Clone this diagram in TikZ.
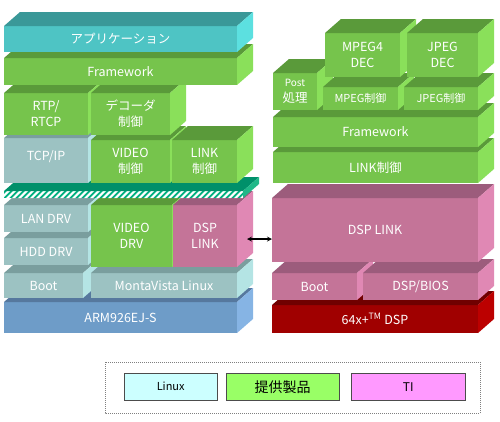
\documentclass[tikz,border=0pt]{standalone}
\usepackage{fontspec}
\setmainfont{Noto Sans CJK JP}
\usepackage{xcolor}
\usepackage{tikz}

% box colours: F front, T top, S side
\definecolor{grnF}{HTML}{76C44C}
\definecolor{grnT}{HTML}{5A9A3A}
\definecolor{grnS}{HTML}{8AE05A}
\definecolor{appF}{HTML}{4EC4C4}
\definecolor{appT}{HTML}{3A9898}
\definecolor{appS}{HTML}{5CE0E0}
\definecolor{lnxF}{HTML}{9CC2C2}
\definecolor{lnxT}{HTML}{7A9E9E}
\definecolor{lnxS}{HTML}{B4E4E4}
\definecolor{pnkF}{HTML}{C47498}
\definecolor{pnkT}{HTML}{9C5C7C}
\definecolor{pnkS}{HTML}{E088B4}
\definecolor{armF}{HTML}{6E9CC8}
\definecolor{armT}{HTML}{56789E}
\definecolor{armS}{HTML}{86B4E4}
\definecolor{redF}{HTML}{A00000}
\definecolor{redT}{HTML}{700000}
\definecolor{redS}{HTML}{BC0000}
\definecolor{slabF}{HTML}{00B080}
\definecolor{slabT}{HTML}{00906A}
\definecolor{slabS}{HTML}{20B888}
\definecolor{keyLnx}{HTML}{CCFFFF}
\definecolor{keyOurs}{HTML}{99FF66}
\definecolor{keyTI}{HTML}{FF99FF}

\tikzset{
  face/.style={anchor=north west, inner sep=0pt, outer sep=0pt, text=white,
    align=center, font=\fontsize{12.5}{16}\selectfont},
  key/.style={anchor=north west, inner sep=0pt, draw=black!70, text=black,
    minimum height=27pt, font=\fontsize{11}{13}\selectfont},
}

% name, x, y, width, height, colour set, text
\newcommand{\blkbox}[7]{%
  \node[face, fill=#6F, minimum width=#4pt, minimum height=#5pt] (#1) at (#2,#3) {#7};
  \fill[#6T] (#1.north west) -- ++(16pt,14pt) -- ([shift={(16pt,14pt)}]#1.north east) -- (#1.north east) -- cycle;
  \fill[#6S] (#1.north east) -- ++(16pt,14pt) -- ([shift={(16pt,14pt)}]#1.south east) -- (#1.south east) -- cycle;
}

\begin{document}
\begin{tikzpicture}[x=1pt,y=-1pt]
\useasboundingbox (0,0) rectangle (500,421);

% ARM side
\blkbox{arm}{4}{302}{233}{31}{arm}{ARM926EJ-S}
\blkbox{bootL}{4}{273}{79}{25}{lnx}{Boot}
\blkbox{mvl}{91}{273}{146}{25}{lnx}{MontaVista Linux}
\blkbox{hdd}{4}{238}{84}{27}{lnx}{HDD DRV}
\blkbox{lan}{4}{205}{84}{27}{lnx}{LAN DRV}
\blkbox{vdrv}{91}{205}{81}{62}{grn}{VIDEO\\DRV}
\blkbox{dspL}{173}{205}{64}{62}{pnk}{DSP\\LINK}

% hatched slab
\node[face, fill=slabF, minimum width=239pt, minimum height=7pt] (slab) at (4,191) {};
\begin{scope}
\clip (slab.south west) rectangle (slab.north east);
\foreach \i in {0,6,...,246}
  \fill[white] (\i,198) -- (\i+3,198) -- (\i+10,191) -- (\i+7,191) -- cycle;
\end{scope}
\fill[slabT] (slab.north west) -- ++(16pt,14pt) -- ([shift={(16pt,14pt)}]slab.north east) -- (slab.north east) -- cycle;
\fill[slabS] (slab.north east) -- ++(16pt,14pt) -- ([shift={(16pt,14pt)}]slab.south east) -- (slab.south east) -- cycle;

\blkbox{tcp}{4}{138}{84}{45}{lnx}{TCP/IP\\[-6pt]\mbox{}}
\blkbox{vctl}{91}{140}{79}{43}{grn}{VIDEO\\制御}
\blkbox{lctlL}{172}{140}{65}{43}{grn}{LINK\\制御}
\blkbox{rtp}{4}{93}{84}{42}{grn}{RTP/\\RTCP}
\blkbox{dec}{91}{93}{79}{42}{grn}{デコーダ\\制御}
\blkbox{fwL}{4}{58}{233}{27}{grn}{Framework}
\blkbox{app}{4}{26}{233}{26}{app}{アプリケーション}

% DSP side
\blkbox{dsp}{272}{305}{206}{28}{red}{64x+\textsuperscript{TM} DSP}
\blkbox{bootR}{272}{273}{85}{27}{pnk}{Boot}
\blkbox{bios}{363}{273}{115}{27}{pnk}{DSP/BIOS}
\blkbox{dspR}{272}{198}{206}{64}{pnk}{DSP LINK}
\blkbox{lctlR}{273}{152}{205}{31}{grn}{LINK制御}
\blkbox{fwR}{273}{117}{205}{30}{grn}{Framework}
\blkbox{post}{273}{73}{44}{37}{grn}{\fontsize{10}{13}\selectfont Post\\処理}
\blkbox{mctl}{323}{87}{75}{23}{grn}{\fontsize{11}{13}\selectfont MPEG制御}
\blkbox{jctl}{404}{87}{74}{23}{grn}{\fontsize{11}{13}\selectfont JPEG制御}
\blkbox{mdec}{325}{33}{75}{44}{grn}{MPEG4\\DEC}
\blkbox{jdec}{407}{33}{71}{44}{grn}{JPEG\\DEC}

\draw[<->, >=stealth, line width=1.2pt] ([xshift=10pt,yshift=-3pt]dspL.east) -- ([yshift=-3pt]dspL.east -| dspR.west);

% legend
\draw[gray, dash pattern=on 1pt off 1pt] (105,362) rectangle (480,413);
\node[key, fill=keyLnx, minimum width=93pt] (kLnx) at (124,373) {Linux};
\node[key, fill=keyOurs, minimum width=113pt, font=\fontsize{14}{16}\selectfont] (kOurs) at (226,373) {提供製品};
\node[key, fill=keyTI, minimum width=114pt, font=\fontsize{12}{14}\selectfont] (kTI) at (351,373) {TI};
\end{tikzpicture}
\end{document}
